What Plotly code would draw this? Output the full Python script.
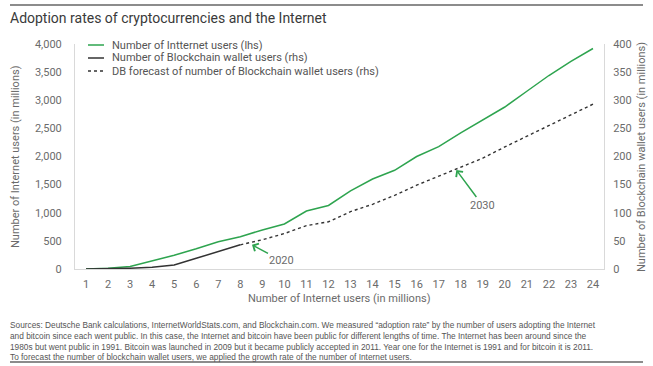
import plotly.graph_objects as go

# ---- data ----
years_idx = list(range(1, 25))
internet_users = [0, 15, 45, 140, 245, 360, 485, 575, 695, 800, 1030, 1130,
                  1390, 1600, 1755, 2000, 2175, 2420, 2650, 2880, 3160, 3440, 3690, 3920]
wallet_x = list(range(1, 9))
wallet_users = [0, 0.5, 1.5, 3, 7, 19, 31, 43]
forecast_x = list(range(8, 25))
forecast_users = [43, 52, 63, 77, 84, 102, 115, 131, 149, 165, 182, 197, 217, 236, 256, 275, 293]

left_ticks = [0, 500, 1000, 1500, 2000, 2500, 3000, 3500, 4000]
right_ticks = [0, 50, 100, 150, 200, 250, 300, 350, 400]

series_names = ["Number of Intternet users (lhs)",
                "Number of Blockchain wallet users (rhs)",
                "DB forecast of number of Blockchain wallet users (rhs)"]

title_text = "Adoption rates of cryptocurrencies and the Internet"
x_title = "Number of Internet users (in millions)"
y1_title = "Number of Internet users (in millions)"
y2_title = "Number of Blockchain wallet users (in millions)"
source_text = ("Sources: Deutsche Bank calculations, InternetWorldStats.com, and Blockchain.com. We measured \u201cadoption rate\u201d by the number of users adopting the Internet<br>"
               "and bitcoin since each went public. In this case, the Internet and bitcoin have been public for different lengths of time. The Internet has been around since the<br>"
               "1980s but went public in 1991. Bitcoin was launched in 2009 but it became publicly accepted in 2011. Year one for the Internet is 1991 and for bitcoin it is 2011.<br>"
               "To forecast the number of blockchain wallet users, we applied the growth rate of the number of Internet users.")

W, H = 653, 366
L, R, T, B = 75, 49, 44, 97
PW, PH = W - L - R, H - T - B

def px(x):
    return (x - L) / PW

def py(y):
    return (H - B - y) / PH

GREEN = "#2ea44f"
DARK = "#333333"
GRAY = "#6b6b6b"
FONT = "Roboto"

fig = go.Figure()
fig.add_trace(go.Scatter(x=years_idx, y=internet_users, mode="lines",
                         name=series_names[0],
                         line=dict(color=GREEN, width=1.5)))
fig.add_trace(go.Scatter(x=wallet_x, y=wallet_users, mode="lines", yaxis="y2",
                         name=series_names[1],
                         line=dict(color=DARK, width=1.5)))
fig.add_trace(go.Scatter(x=forecast_x, y=forecast_users, mode="lines", yaxis="y2",
                         name=series_names[2],
                         line=dict(color=DARK, width=1.4, dash="dot")))

fig.update_layout(
    width=W, height=H,
    margin=dict(l=L, r=R, t=T, b=B),
    paper_bgcolor="white", plot_bgcolor="white",
    font=dict(family=FONT, size=11, color=GRAY),
    title=dict(text=title_text, x=10 / W, xanchor="left", y=1 - 18 / H, yanchor="middle",
               font=dict(family=FONT, size=14, color="#3a3a3a")),
    showlegend=False,
    xaxis=dict(range=[0.5, 24.5], tickmode="array", tickvals=years_idx,
               ticktext=[str(v) for v in years_idx], showgrid=False, zeroline=False,
               showline=True, linecolor="#d9d9d9", linewidth=1, ticks="",
               ticklabelstandoff=5),
    yaxis=dict(range=[0, 4000], tickmode="array", tickvals=left_ticks,
               ticktext=[f"{v:,}" for v in left_ticks], showgrid=False, zeroline=False,
               showline=True, linecolor="#d9d9d9", linewidth=1, ticks="",
               ticklabelstandoff=10),
    yaxis2=dict(range=[0, 400], overlaying="y", side="right", tickmode="array",
                tickvals=right_ticks, showgrid=False, zeroline=False,
                showline=True, linecolor="#d9d9d9", linewidth=1, ticks="",
                ticklabelstandoff=6),
)

# axis titles placed precisely
fig.add_annotation(x=0.5, y=py(298), xref="paper", yref="paper", xanchor="center",
                   yanchor="middle", showarrow=False, text=x_title,
                   font=dict(size=11, color=GRAY))
fig.add_annotation(x=px(15), y=py(157), xref="paper", yref="paper", xanchor="center",
                   yanchor="middle", showarrow=False, text=y1_title, textangle=-90,
                   font=dict(size=11, color=GRAY))
fig.add_annotation(x=px(641), y=py(157), xref="paper", yref="paper", xanchor="center",
                   yanchor="middle", showarrow=False, text=y2_title, textangle=-90,
                   font=dict(size=11, color=GRAY))

# legend drawn manually (compact rows as in the reference)
legend_rows = [(45, dict(color=GREEN, width=1.5)),
               (58, dict(color=DARK, width=1.5)),
               (71, dict(color=DARK, width=1.4, dash="dot"))]
for (yy, ln), name in zip(legend_rows, series_names):
    fig.add_shape(type="line", xref="paper", yref="paper", x0=px(88), x1=px(104),
                  y0=py(yy), y1=py(yy), line=ln)
    fig.add_annotation(x=px(110), y=py(yy), xref="paper", yref="paper", xanchor="left",
                       yanchor="middle", showarrow=False, text=name,
                       font=dict(size=11, color="#555555"))

fig.add_annotation(x=8.53, y=43, xref="x", yref="y2", text="2020", showarrow=True,
                   ax=30, ay=16, arrowhead=4, arrowsize=1.1, arrowwidth=1.5,
                   arrowcolor=GREEN, font=dict(size=11, color=GRAY))
fig.add_annotation(x=17.8, y=176, xref="x", yref="y2", text="2030", showarrow=True,
                   ax=26, ay=35, arrowhead=4, arrowsize=1.1, arrowwidth=1.5,
                   arrowcolor=GREEN, font=dict(size=11, color=GRAY))

fig.add_annotation(x=px(8), y=py(341), xref="paper", yref="paper", xanchor="left",
                   yanchor="middle", align="left", showarrow=False, text=source_text,
                   font=dict(family="Liberation Sans", size=8.3, color="#555555"))

fig.add_shape(type="line", xref="paper", yref="paper", x0=px(10), x1=px(643),
              y0=py(5), y1=py(5), line=dict(color="#8c8c8c", width=2))
fig.add_shape(type="line", xref="paper", yref="paper", x0=px(10), x1=px(643),
              y0=py(362), y1=py(362), line=dict(color="#8c8c8c", width=2))

fig.write_html("out.html", config={"displayModeBar": False},
               post_script="document.body.style.margin='0';")
